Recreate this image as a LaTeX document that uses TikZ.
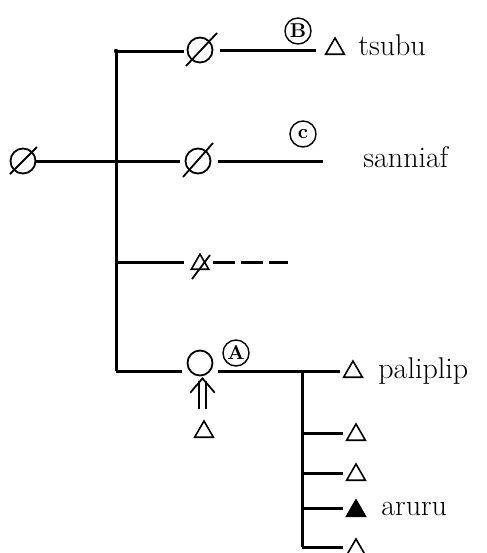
\documentclass[tikz,border=0pt]{standalone}
\usetikzlibrary{shapes.geometric}
\begin{document}
\begin{tikzpicture}[x=0.5pt,y=-0.5pt,
  branch/.style={line width=1.5pt},
  thin/.style={line width=0.9pt},
  nullnode/.style={circle,draw,line width=0.9pt,minimum size=12.5pt,inner sep=0pt},
  opennode/.style={circle,draw,line width=0.9pt,minimum size=12.5pt,inner sep=0pt},
  tri/.style={regular polygon,regular polygon sides=3,draw,line width=0.8pt,
              minimum size=10.8pt,inner sep=0pt,anchor=south},
  filledtri/.style={tri,fill=black},
  tag/.style={circle,draw,line width=0.7pt,minimum size=13pt,inner sep=0pt,
              font=\fontsize{10}{11}\bfseries\selectfont},
  word/.style={anchor=base west,inner sep=0pt,font=\fontsize{15}{18}\selectfont},
  slash/.style={line width=0.9pt}
]
\useasboundingbox (0,0) rectangle (487,553);

% root and trunk
\node[nullnode] (n0) at (23,161) {};
\draw[slash] ([shift={(-13,13)}]n0.center) -- ([shift={(14,-14)}]n0.center);
\coordinate (top) at (116,51);
\coordinate (jB) at (116,262);
\coordinate (jA) at (116,371);
\fill (top) circle (2.2);

% first-level nodes
\node[nullnode] (nB) at (200,50) {};
\draw[slash] ([shift={(-14,16)}]nB.center) -- ([shift={(17,-17)}]nB.center);
\node[nullnode] (nC) at (198,161) {};
\draw[slash] ([shift={(-15,16)}]nC.center) -- ([shift={(15,-18)}]nC.center);
\node[tri,minimum size=10pt] (nD) at (200,270) {};
\draw[slash] (192,279) -- (210,255);
\node[opennode] (nA) at (200,363) {};

% trunk connectors
\draw[branch] (top) -- (jA);
\draw[branch] (top) -- ([shift={(-2.5,0)}]nB.west |- top);
\draw[branch] (n0.east) -- ([shift={(-5,0)}]nC.west);
\draw[branch] (jB) -- ([shift={(-10,0)}]nD.south west |- jB);
\draw[branch] (jA) -- ([shift={(-5,0)}]nA.west |- jA);

% B branch
\coordinate (eB) at (316,50);
\draw[branch] ([shift={(6.5,0)}]nB.east) -- (eB);
\node[tag] (tagB) at (298,31) {B};
\node[tri] (tB) at (335,55) {};
\node[word] (wB) at (358,55) {tsubu};

% C branch
\coordinate (eC) at (323,161);
\draw[branch] ([shift={(6.5,0)}]nC.east) -- (eC);
\node[tag] (tagC) at (303,134) {c};
\node[word] (wC) at (363,167) {sanniaf};

% D branch (dashed)
\coordinate (eD) at (288,262);
\draw[branch,dash pattern=on 11pt off 3pt] ([shift={(7,0)}]nD.south east |- jB) -- (eD);

% A branch
\node[tag] (tagA) at (236,353) {A};
\coordinate (eA) at (340,371);
\coordinate (kA) at (302,371);
\draw[branch] ([shift={(5,0)}]nA.east |- eA) -- (eA);
\node[tri] (tA) at (353,378) {};
\node[word] (wA) at (378,378) {paliplip};

% input to A: double shaft with an open head
\node[tri] (tU) at (204,438) {};
\draw[thin] ([shift={(-5,-10)}]tU.north) -- ([shift={(-5,5)}]tU.north |- nA.south);
\draw[thin] ([shift={(2,-10)}]tU.north) -- ([shift={(2,5)}]tU.north |- nA.south);
\draw[thin,line cap=round,line join=miter]
  ([shift={(-13.5,16)}]tU.north |- nA.south) -- ([shift={(-1.5,2)}]tU.north |- nA.south)
  -- ([shift={(10.5,16)}]tU.north |- nA.south);

% daughters of A
\coordinate (k1) at (302,433);
\coordinate (k2) at (302,473);
\coordinate (k3) at (302,508);
\coordinate (k4) at (302,547);
\draw[branch] (kA) -- (k4);
\draw[branch] (k1) -- ++(41,0);
\draw[branch] (k2) -- ++(41,0);
\draw[branch] (k3) -- ++(41,0);
\draw[branch] (k4) -- ++(41,0);
\node[tri] (t1) at (356,441) {};
\node[tri] (t2) at (356,481) {};
\node[filledtri] (t3) at (356,517) {};
\node[word] (w3) at (381,515) {aruru};
\node[tri] (t4) at (356,556) {};
\end{tikzpicture}
\end{document}
